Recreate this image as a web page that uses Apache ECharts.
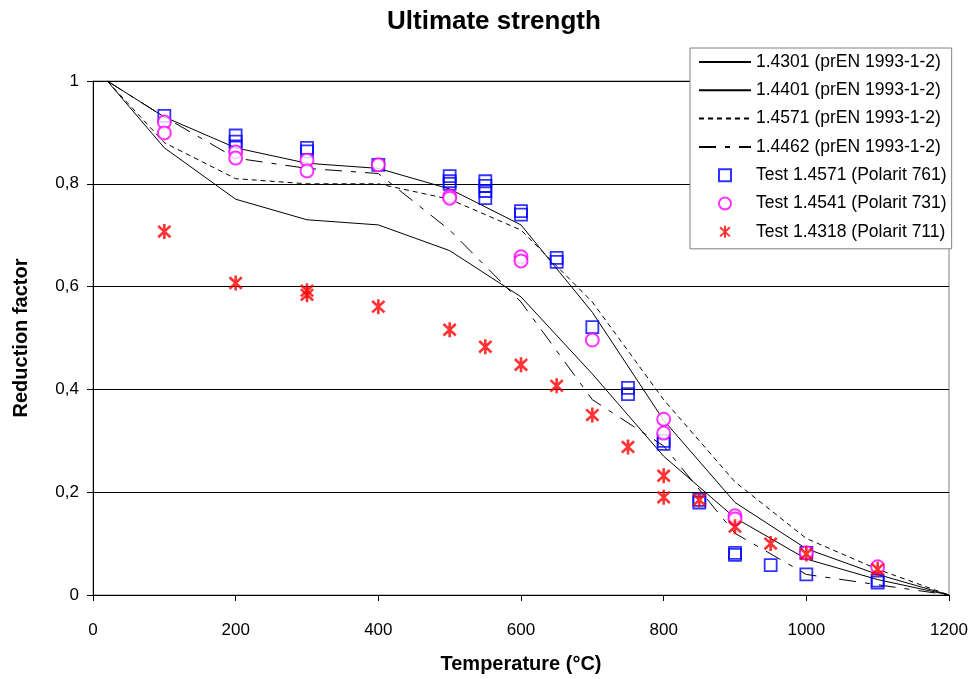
<!DOCTYPE html>
<html>
<head>
<meta charset="utf-8">
<title>Ultimate strength</title>
<script src="https://cdn.jsdelivr.net/npm/echarts@6/dist/echarts.min.js"></script>
<style>
  html, body { margin: 0; padding: 0; background: #fff; }
  #main { width: 976px; height: 679px; }
</style>
</head>
<body>
<div id="main"></div>
<script>
// temperatures of the prEN 1993-1-2 curves
var temps = [20, 100, 200, 300, 400, 500, 600, 700, 800, 900, 1000, 1100, 1200];
var k4301 = [1, 0.87, 0.77, 0.73, 0.72, 0.67, 0.58, 0.43, 0.27, 0.15, 0.07, 0.03, 0];
var k4401 = [1, 0.93, 0.87, 0.84, 0.83, 0.79, 0.72, 0.55, 0.34, 0.18, 0.09, 0.04, 0];
var k4571 = [1, 0.88, 0.81, 0.80, 0.80, 0.77, 0.71, 0.57, 0.38, 0.22, 0.11, 0.05, 0];
var k4462 = [1, 0.93, 0.85, 0.83, 0.82, 0.71, 0.57, 0.38, 0.29, 0.12, 0.04, 0.02, 0];

// test results [temperature, factor]
var test761 = [
  [100, 0.932],
  [200, 0.894], [200, 0.882], [200, 0.873],
  [300, 0.870], [300, 0.863],
  [400, 0.837],
  [500, 0.815], [500, 0.805], [500, 0.800],
  [550, 0.805], [550, 0.796], [550, 0.786], [550, 0.772],
  [600, 0.747], [600, 0.740],
  [650, 0.656], [650, 0.648],
  [700, 0.521],
  [750, 0.403], [750, 0.391],
  [800, 0.300], [800, 0.294],
  [850, 0.185], [850, 0.180],
  [900, 0.082], [900, 0.078],
  [950, 0.058],
  [1000, 0.082], [1000, 0.040],
  [1100, 0.028], [1100, 0.024]
];
var test731 = [
  [100, 0.920], [100, 0.899],
  [200, 0.862], [200, 0.850],
  [300, 0.846], [300, 0.825],
  [400, 0.837],
  [500, 0.776], [500, 0.772],
  [600, 0.658], [600, 0.650],
  [700, 0.496],
  [800, 0.342], [800, 0.315],
  [900, 0.154], [900, 0.148],
  [1000, 0.082],
  [1100, 0.055]
];
var test711 = [
  [100, 0.707],
  [200, 0.607],
  [300, 0.592], [300, 0.584],
  [400, 0.561],
  [500, 0.516],
  [550, 0.483],
  [600, 0.448],
  [650, 0.407],
  [700, 0.350],
  [750, 0.288],
  [800, 0.232], [800, 0.190],
  [850, 0.185],
  [900, 0.133],
  [950, 0.100],
  [1000, 0.080],
  [1100, 0.050]
];

function pairs(ys) {
  return temps.map(function (t, i) { return [t, ys[i]]; });
}

var squarePath = 'path://M0,0H10V10H0Z';
var starPath = 'path://M5,0L5,10M0.9,1.2L9.1,8.8M0.9,8.8L9.1,1.2';

function curve(name, ys, dash) {
  return {
    name: name,
    type: 'line',
    data: pairs(ys),
    symbol: 'circle',
    symbolSize: 0,
    showSymbol: false,
    lineStyle: { color: '#000', width: 1, type: dash },
    itemStyle: { color: 'rgba(0,0,0,0)', borderWidth: 0 },
    z: 2
  };
}

var chart = echarts.init(document.getElementById('main'));
chart.setOption({
  animation: false,
  textStyle: { fontFamily: 'Liberation Sans, Arial, sans-serif' },
  title: {
    text: 'Ultimate strength',
    left: 382,
    top: 4,
    textStyle: { fontSize: 26, fontWeight: 'bold', color: '#000' }
  },
  grid: { left: 93, right: 27, top: 81, bottom: 84, show: true, borderColor: '#808080', borderWidth: 1 },
  legend: {
    orient: 'vertical',
    left: 690,
    top: 48,
    padding: [5, 5, 8, 8],
    itemGap: 10.3,
    itemWidth: 52,
    itemHeight: 12,
    backgroundColor: '#fff',
    borderColor: '#808080',
    borderWidth: 1,
    textStyle: { fontSize: 17.5, color: '#000' },
    data: [
      '1.4301 (prEN 1993-1-2)',
      '1.4401 (prEN 1993-1-2)',
      '1.4571 (prEN 1993-1-2)',
      '1.4462 (prEN 1993-1-2)',
      'Test 1.4571 (Polarit 761)',
      'Test 1.4541 (Polarit 731)',
      'Test 1.4318 (Polarit 711)'
    ]
  },
  xAxis: {
    type: 'value',
    min: 0,
    max: 1200,
    interval: 200,
    name: 'Temperature (°C)',
    nameLocation: 'middle',
    nameGap: 59,
    nameTextStyle: { fontSize: 20, fontWeight: 'bold', color: '#000' },
    axisLine: { lineStyle: { color: '#000', width: 1 } },
    axisTick: { show: true, length: 6, lineStyle: { color: '#000' } },
    axisLabel: {
      fontSize: 17, color: '#000', margin: 27,
      formatter: function (v) { return String(v); }
    },
    splitLine: { show: false }
  },
  yAxis: {
    type: 'value',
    min: 0,
    max: 1,
    interval: 0.2,
    name: 'Reduction factor',
    nameLocation: 'middle',
    nameGap: 62,
    nameTextStyle: { fontSize: 20, fontWeight: 'bold', color: '#000' },
    axisLine: { show: true, lineStyle: { color: '#000', width: 1 } },
    axisTick: { show: true, length: 6, lineStyle: { color: '#000' } },
    axisLabel: {
      fontSize: 17, color: '#000', margin: 14,
      formatter: function (v) { return String(Math.round(v * 10) / 10).replace('.', ','); }
    },
    splitLine: { show: true, lineStyle: { color: '#000', width: 1 } }
  },
  series: [
    curve('1.4301 (prEN 1993-1-2)', k4301, 'solid'),
    curve('1.4401 (prEN 1993-1-2)', k4401, 'solid'),
    curve('1.4571 (prEN 1993-1-2)', k4571, [5, 4]),
    curve('1.4462 (prEN 1993-1-2)', k4462, [17, 9, 5, 9]),
    {
      name: 'Test 1.4571 (Polarit 761)',
      type: 'scatter',
      data: test761,
      symbol: squarePath,
      symbolSize: 12,
      symbolKeepAspect: true,
      itemStyle: { color: 'none', borderColor: '#0000ff', borderWidth: 1.8 },
      z: 3
    },
    {
      name: 'Test 1.4541 (Polarit 731)',
      type: 'scatter',
      data: test731,
      symbol: 'emptyCircle',
      symbolSize: 13,
      symbolKeepAspect: true,
      itemStyle: { color: '#ff00ff', borderColor: '#ff00ff', borderWidth: 1.6 },
      z: 4
    },
    {
      name: 'Test 1.4318 (Polarit 711)',
      type: 'scatter',
      data: test711,
      symbol: starPath,
      symbolSize: 15,
      symbolKeepAspect: true,
      itemStyle: { color: 'none', borderColor: '#ff0000', borderWidth: 2.6 },
      z: 5
    }
  ]
});
</script>
</body>
</html>
